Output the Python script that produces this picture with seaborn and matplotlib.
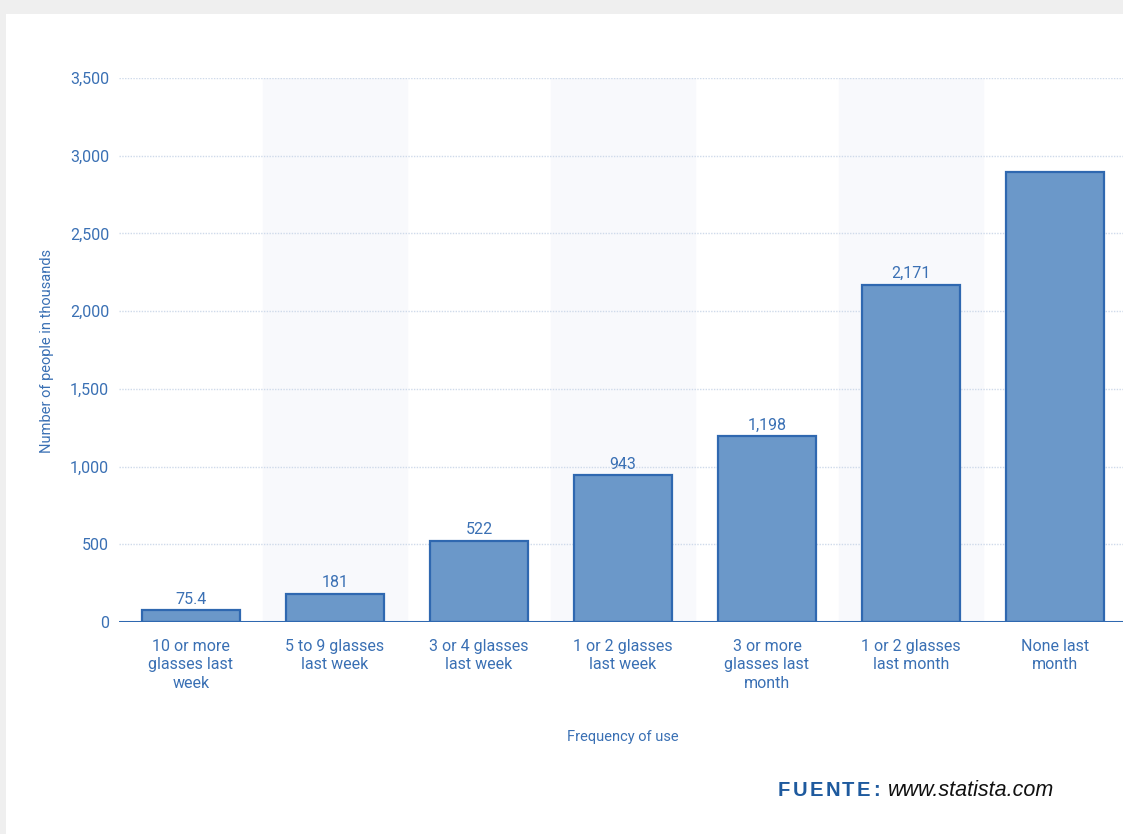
import matplotlib
matplotlib.use("Agg")
import matplotlib.pyplot as plt
from matplotlib.patches import Rectangle
import seaborn as sns
import pandas as pd

categories = [
    "10 or more\nglasses last\nweek",
    "5 to 9 glasses\nlast week",
    "3 or 4 glasses\nlast week",
    "1 or 2 glasses\nlast week",
    "3 or more\nglasses last\nmonth",
    "1 or 2 glasses\nlast month",
    "None last\nmonth",
]
values = [75.4, 181, 522, 943, 1198, 2171, 2893]
value_labels = ["75.4", "181", "522", "943", "1,198", "2,171", None]
y_ticks = [0, 500, 1000, 1500, 2000, 2500, 3000, 3500]

BLUE_TEXT = "#3a70b4"
BAR_FILL = "#6b98c9"
BAR_EDGE = "#2f68b0"

sns.set_theme(style="white")
plt.rcParams["font.family"] = ["Roboto", "DejaVu Sans"]

W, H = 1123, 834
fig = plt.figure(figsize=(W / 100, H / 100), dpi=100)
fig.patch.set_facecolor("#efefef")
# white card behind everything
fig.patches.append(Rectangle((6 / W, 0), 1, (H - 14) / H, transform=fig.transFigure,
                             facecolor="white", edgecolor="none", zorder=-10))

ax = fig.add_axes([119 / W, (H - 622) / H, (1127 - 119) / W, (622 - 78) / H])
ax.set_zorder(2)
ax.set_facecolor("none")

df = pd.DataFrame({"category": categories, "value": values})
sns.barplot(data=df, x="category", y="value", ax=ax, width=0.68,
            color=BAR_FILL, edgecolor=BAR_EDGE, linewidth=1.6, saturation=1, zorder=3)

# faint alternating column bands
for i in (1, 3, 5):
    ax.axvspan(i - 0.5, i + 0.5, color="#f8f9fc", zorder=0)

ax.set_xlim(-0.5, 6.5)
ax.set_ylim(0, 3500)
ax.set_yticks(y_ticks)
ax.set_yticklabels([f"{t:,}" for t in y_ticks])
for t in y_ticks[1:]:
    ax.axhline(t, color="#cfdaea", linewidth=1.0, linestyle=(0, (1, 1)), zorder=1)
ax.axhline(0, color=BAR_EDGE, linewidth=2.2, zorder=4)

for i, lab in enumerate(value_labels):
    if lab is not None:
        ax.text(i, values[i] + 22, lab, ha="center", va="bottom",
                fontsize=11.5, color=BLUE_TEXT, zorder=5)

for s in ax.spines.values():
    s.set_visible(False)
ax.tick_params(axis="y", length=0, pad=7, labelsize=11.5, labelcolor=BLUE_TEXT)
ax.tick_params(axis="x", length=0, pad=12, labelsize=11.5, labelcolor=BLUE_TEXT)
for lbl in ax.get_xticklabels():
    lbl.set_linespacing(1.3)

ax.set_xlabel("")
ax.set_ylabel("")
fig.text(47 / W, 1 - 351 / H, "Number of people in thousands", rotation=90,
         ha="center", va="center", fontsize=10.5, color=BLUE_TEXT)
fig.text(623 / W, 1 - 737 / H, "Frequency of use", ha="center", va="center",
         fontsize=10.5, color=BLUE_TEXT)

# source line: letter-spaced bold label followed by italic URL
renderer = fig.canvas.get_renderer()
x_px = 778
for ch in "FUENTE:":
    t = fig.text(x_px / W, 1 - 791 / H, ch, ha="left", va="center",
                 fontsize=14.5, fontweight="bold", color="#1e5a9e",
                 family="Liberation Sans")
    x_px += t.get_window_extent(renderer).width + 2.3
fig.text(888 / W, 1 - 791 / H, "www.statista.com", ha="left", va="center",
         fontsize=15.5, fontstyle="italic", color="#111111",
         family="Liberation Sans")

fig.savefig("out.png", dpi=100, facecolor=fig.get_facecolor())
